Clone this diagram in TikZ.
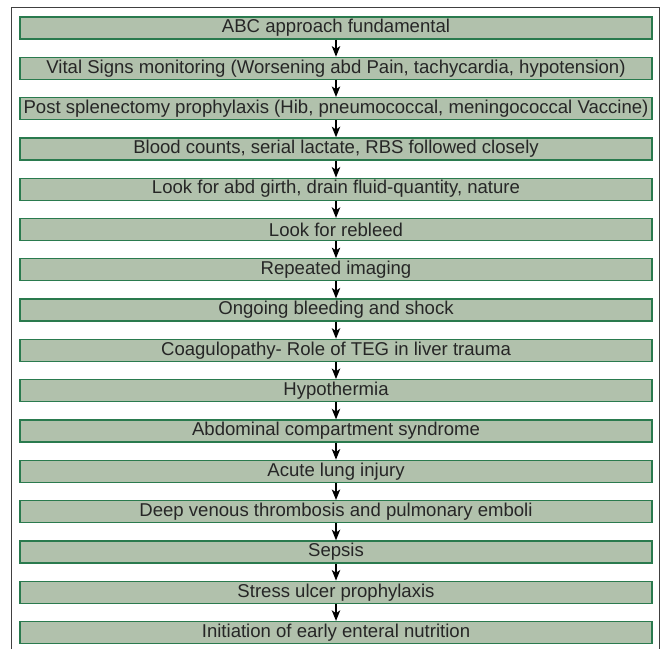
\documentclass[tikz,border=0pt]{standalone}
\usepackage{fontspec}
\setmainfont{Liberation Sans}
\usetikzlibrary{arrows.meta}
\definecolor{stepfill}{HTML}{B1C1AC}
\definecolor{stepline}{HTML}{2A7A4E}
\begin{document}
\begin{tikzpicture}[
    x=0.025cm, y=-0.025cm,
    stepbox/.style={
        draw=stepline,
        fill=stepfill,
        line width=0.9pt,
        minimum width=15.8cm,
        minimum height=0.55cm,
        inner sep=0pt,
        font=\fontsize{13.2}{15}\selectfont,
        text=black!85
    },
    arrow/.style={-{Stealth[length=7.5pt,width=6pt,inset=2pt]}, line width=0.9pt}
]
\useasboundingbox (0,0) rectangle (661,649);

% Frame
\draw[line width=0.6pt, black!75] (11.5,649) -- (11.5,7) -- (659,7) -- (659,649);

% Steps
\foreach \txt [count=\i] in {
    ABC approach fundamental,
    {Vital Signs monitoring (Worsening abd Pain, tachycardia, hypotension)},
    {Post splenectomy prophylaxis (Hib, pneumococcal, meningococcal Vaccine)},
    {Blood counts, serial lactate, RBS followed closely},
    {Look for abd girth, drain fluid-quantity, nature},
    Look for rebleed,
    Repeated imaging,
    Ongoing bleeding and shock,
    Coagulopathy- Role of TEG in liver trauma,
    Hypothermia,
    Abdominal compartment syndrome,
    Acute lung injury,
    Deep venous thrombosis and pulmonary emboli,
    Sepsis,
    Stress ulcer prophylaxis,
    Initiation of early enteral nutrition}
    \node[stepbox] (s\i) at (336, {28+40.3*(\i-1)}) {\txt};

% Arrows
\foreach \i [evaluate=\i as \j using int(\i+1)] in {1,...,15}
    \draw[arrow] (s\i.south) -- (s\j.north);

\end{tikzpicture}
\end{document}
